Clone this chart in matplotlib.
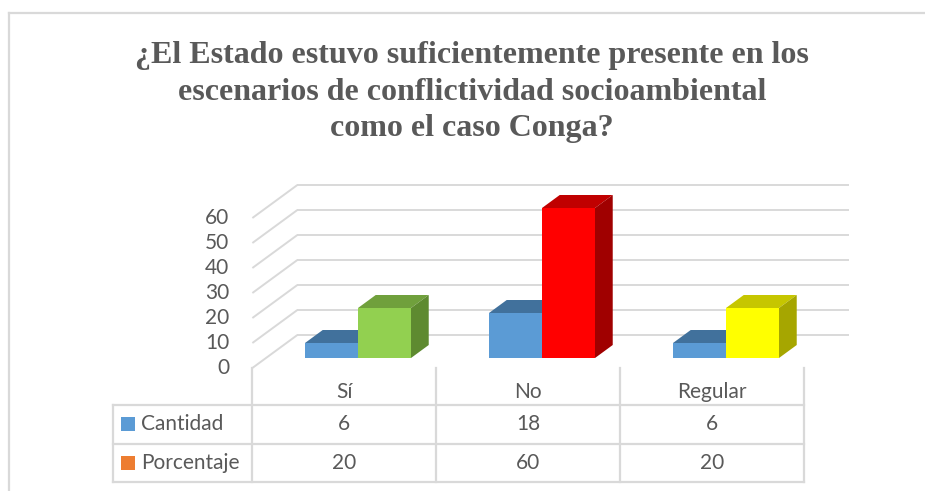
import matplotlib
matplotlib.use("Agg")
import matplotlib.pyplot as plt
from matplotlib.patches import Polygon, Rectangle
from matplotlib.lines import Line2D

# ---------------- data ----------------
categories = ["Sí", "No", "Regular"]
series_names = ["Cantidad", "Porcentaje"]
cantidad = [6, 18, 6]
porcentaje = [20, 60, 20]
y_ticks = [0, 10, 20, 30, 40, 50, 60]
title = ("¿El Estado estuvo suficientemente presente en los\n"
         "escenarios de conflictividad socioambiental\n"
         "como el caso Conga?")

# ---------------- style ----------------
W, H = 925, 491
TXT = "#595959"
GRID = "#D9D9D9"
FONT = "Lato"
FS = 15
legend_colors = ["#5B9BD5", "#ED7D31"]
blue = dict(front="#5B9BD5", top="#41719C", side="#3A6893")
second = [
    dict(front="#92D050", top="#70A03C", side="#5E8A30"),
    dict(front="#FF0000", top="#C00000", side="#A00000"),
    dict(front="#FFFF00", top="#C6C600", side="#A6A600"),
]

fig = plt.figure(figsize=(W / 100, H / 100), dpi=100)
fig.patch.set_facecolor("white")

# plot axes covers the whole figure; data plane = bar front faces
PX0, PXC = 266.0, 184.0   # pixel of x=-0.5, pixels per category
PY0, PYV = 358.0, 2.5     # pixel of value 0, pixels per value unit
ax = fig.add_axes([0, 0, 1, 1])
ax.set_xlim((0 - PX0) / PXC - 0.5, (W - PX0) / PXC - 0.5)
ax.set_ylim((PY0 - H) / PYV, (PY0 - 0) / PYV)
ax.axis("off")

KX = 45.0 / 33.0  # pixel x shift per pixel of depth


def proj(x, v, z):
    """3D (category, value, depth-in-px) -> data coords of the axes."""
    return (x + KX * z / PXC, v + z / PYV)


def fx(px):
    return px / W


def fy(py):
    return 1 - py / H


Z_FRONT, Z_BACK, BAR_D = -10.0, 23.0, 13.0
xmin, xmax = -0.5, len(categories) - 0.5

# walls / gridlines
for v in y_ticks:
    p1 = proj(xmin, v, Z_BACK)
    p2 = proj(xmax, v, Z_BACK)
    p3 = proj(xmin, v, Z_FRONT)
    ax.plot([p1[0], p2[0]], [p1[1], p2[1]], color=GRID, lw=1.4, zorder=1,
            solid_capstyle="butt")
    ax.plot([p3[0], p1[0]], [p3[1], p1[1]], color=GRID, lw=1.4, zorder=1,
            solid_capstyle="butt")
    ax.annotate(str(v), xy=p3, xycoords="data", xytext=(-23, 0),
                textcoords="offset pixels", ha="right", va="center",
                fontsize=FS, color=TXT, family=FONT)

# bars
bw = 53.0 / PXC


def draw_bar(x0, h, cols, z):
    x1 = x0 + bw
    top = [proj(x0, h, 0), proj(x1, h, 0), proj(x1, h, BAR_D), proj(x0, h, BAR_D)]
    side = [proj(x1, 0, 0), proj(x1, h, 0), proj(x1, h, BAR_D), proj(x1, 0, BAR_D)]
    ax.add_patch(Polygon(top, closed=True, facecolor=cols["top"], edgecolor="none", zorder=z))
    ax.add_patch(Polygon(side, closed=True, facecolor=cols["side"], edgecolor="none", zorder=z))
    ax.bar([x0], [h], width=bw, align="edge", color=cols["front"], edgecolor="none",
           zorder=z + 0.5)


for i in range(len(categories)):
    draw_bar(i - bw, cantidad[i], blue, 3 + i * 2)
    draw_bar(i, porcentaje[i], second[i], 4 + i * 2)

# ---------------- data table ----------------
TY_TOP, TY_H, TY_R1, TY_R2 = 368, 405, 444, 482
TX_LEFT = 113
col_edges = [proj(xmin + k, 0, Z_FRONT)[0] for k in range(len(categories) + 1)]
col_edges_px = [PX0 + (c + 0.5) * PXC for c in col_edges]
col_cent_px = [(col_edges_px[k] + col_edges_px[k + 1]) / 2 for k in range(len(categories))]

lw_t = 1.6
for xe in col_edges_px:
    fig.add_artist(Line2D([fx(xe), fx(xe)], [fy(TY_TOP), fy(TY_R2)], color=GRID, lw=lw_t))
fig.add_artist(Line2D([fx(TX_LEFT), fx(TX_LEFT)], [fy(TY_H), fy(TY_R2)], color=GRID, lw=lw_t))
for yy in (TY_H, TY_R1, TY_R2):
    fig.add_artist(Line2D([fx(TX_LEFT), fx(col_edges_px[-1])], [fy(yy), fy(yy)],
                          color=GRID, lw=lw_t))

for k, c in enumerate(categories):
    fig.text(fx(col_cent_px[k]), fy(392), c, ha="center", va="center",
             fontsize=FS, color=TXT, family=FONT)

rows = [cantidad, porcentaje]
row_y = [424, 463]
for r, (name, vals) in enumerate(zip(series_names, rows)):
    yc = row_y[r]
    fig.add_artist(Rectangle((fx(121), fy(yc + 7)), 14 / W, 14 / H,
                             facecolor=legend_colors[r], edgecolor="none"))
    fig.text(fx(141), fy(yc), name, ha="left", va="center",
             fontsize=FS, color=TXT, family=FONT)
    for k, val in enumerate(vals):
        fig.text(fx(col_cent_px[k]), fy(yc), str(val), ha="center", va="center",
                 fontsize=FS, color=TXT, family=FONT)

# ---------------- title ----------------
fig.text(fx(472), fy(92), title, ha="center", va="center", multialignment="center",
         fontsize=23, fontweight="bold", color=TXT, family="Liberation Serif",
         linespacing=1.32)

# ---------------- chart border ----------------
fig.add_artist(Line2D([fx(9), fx(W)], [fy(13), fy(13)], color=GRID, lw=1.6))
fig.add_artist(Line2D([fx(9), fx(9)], [fy(13), fy(H)], color=GRID, lw=1.6))

fig.savefig("out.png", dpi=100, facecolor="white")
